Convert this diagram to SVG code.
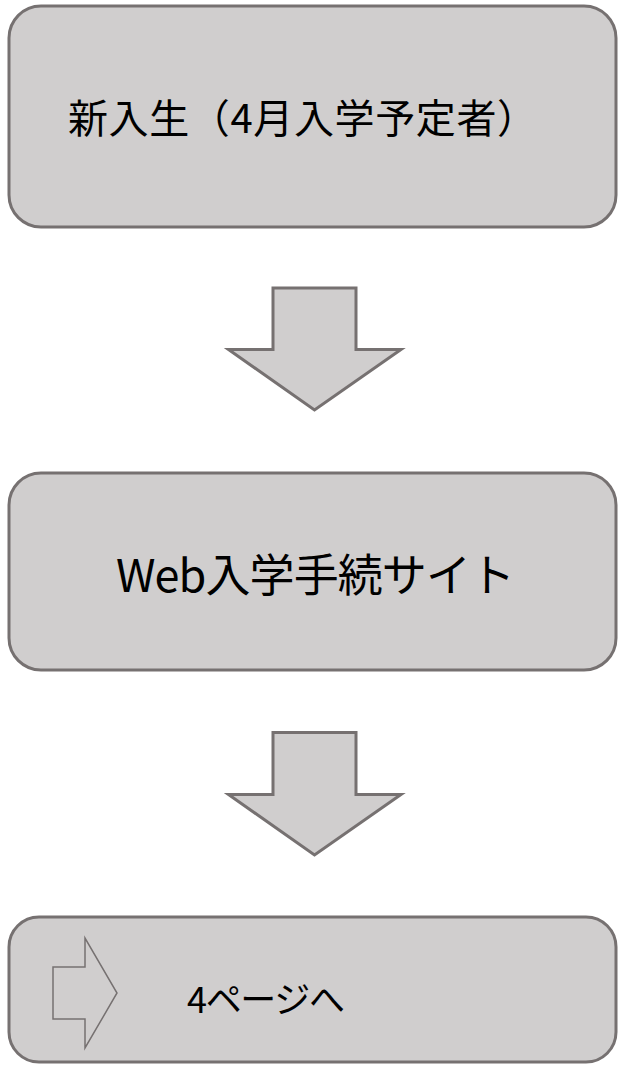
<svg xmlns="http://www.w3.org/2000/svg" width="619" height="1067" viewBox="0 0 619 1067">
<style>
.box{fill:#d0cece;stroke:#767171;stroke-width:3}
.arr{fill:#d0cece;stroke:#767171;stroke-width:3;stroke-linejoin:miter}
.small{fill:none;stroke:#767171;stroke-width:1.5}
.t{font-family:"Meiryo UI","Noto Sans CJK JP","Noto Sans",sans-serif;fill:#000}
</style>
<rect width="619" height="1067" fill="#ffffff"/>
<g id="node1">
<rect class="box" x="9" y="6" width="607" height="221" rx="32" ry="32"/>
<text class="t" x="68" y="133" font-size="40" textLength="469" lengthAdjust="spacing">新入生（4月入学予定者）</text>
</g>
<g id="node2">
<rect class="box" x="9" y="473" width="607" height="197" rx="32" ry="32"/>
<text class="t" x="116" y="592" font-size="45" textLength="399" lengthAdjust="spacing">Web入学手続サイト</text>
</g>
<g id="node3">
<rect class="box" x="9" y="917" width="607" height="145" rx="30" ry="30"/>
<polygon class="small" points="53,967 85,967 85,938 117,993 85,1048 85,1019 53,1019"/>
<text class="t" x="187" y="1013" font-size="36" textLength="158" lengthAdjust="spacing">4ページへ</text>
</g>
<g id="connectors">
<polygon class="arr" points="273,288 356,288 356,349.5 401,349.5 314.5,410 228.5,349.5 273,349.5"/>
<polygon class="arr" points="273,732.5 356,732.5 356,794.5 401,794.5 314.5,855 228.5,794.5 273,794.5"/>
</g>
</svg>
